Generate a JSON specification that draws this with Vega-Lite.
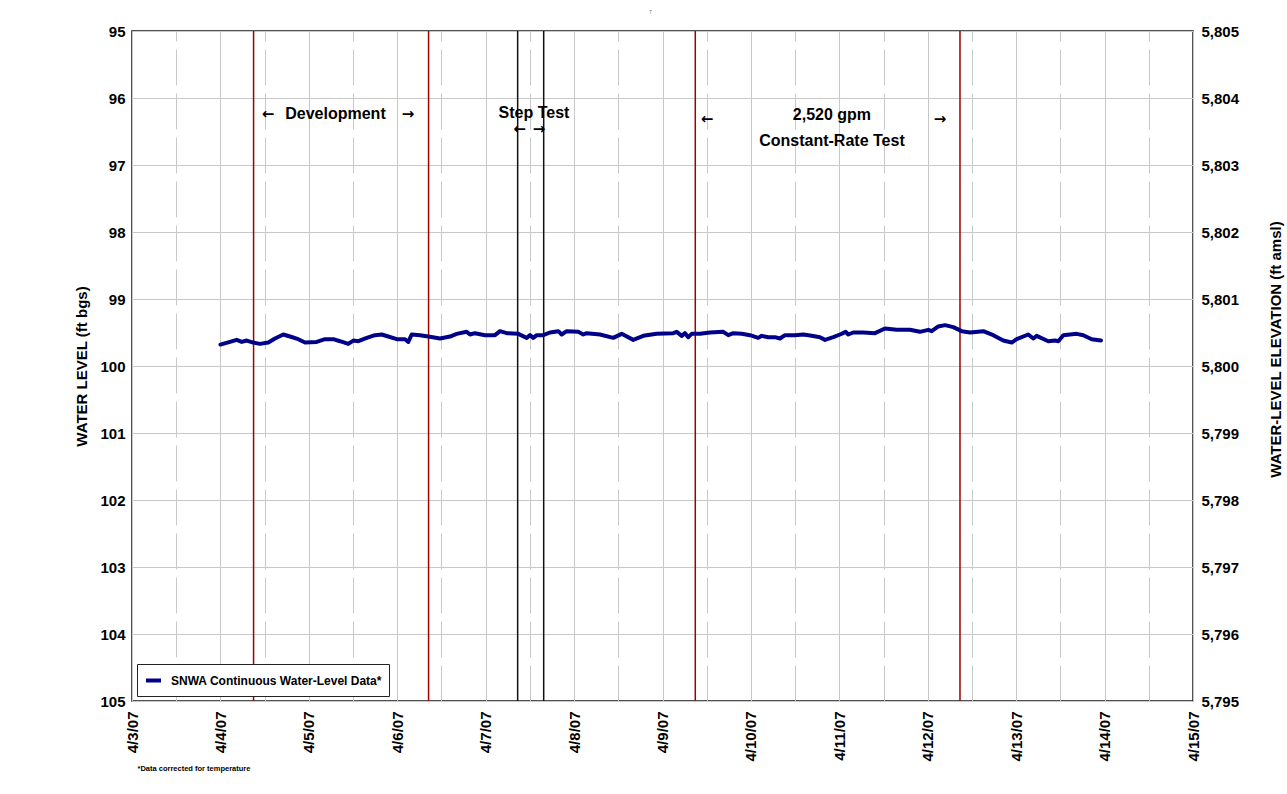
{
  "$schema": "https://vega.github.io/schema/vega-lite/v6.json",
  "width": 1061,
  "height": 670,
  "autosize": {"type": "none"},
  "padding": {"left": 132, "top": 31, "right": 94, "bottom": 93},
  "background": "white",
  "title": {
    "text": "7",
    "fontSize": 5,
    "fontWeight": "normal",
    "color": "#666666",
    "frame": "group",
    "anchor": "middle",
    "offset": 9,
    "dx": -12
  },
  "config": {
    "font": "Liberation Sans",
    "view": {"stroke": "#1a1a1a", "strokeWidth": 1.5},
    "axis": {
      "labelFont": "Liberation Sans",
      "labelFontWeight": "bold",
      "labelFontSize": 15,
      "labelColor": "#000000",
      "titleFont": "Liberation Sans",
      "titleFontWeight": "bold",
      "titleFontSize": 15,
      "titleColor": "#000000",
      "domain": false,
      "ticks": false,
      "gridColor": "#c8c8c8",
      "gridWidth": 1
    }
  },
  "datasets": {
    "level": [
      {"t": "2007-04-04T00:00", "level": 99.68},
      {"t": "2007-04-04T02:36", "level": 99.64},
      {"t": "2007-04-04T04:25", "level": 99.61},
      {"t": "2007-04-04T05:47", "level": 99.64},
      {"t": "2007-04-04T07:08", "level": 99.62},
      {"t": "2007-04-04T08:56", "level": 99.65},
      {"t": "2007-04-04T10:45", "level": 99.67},
      {"t": "2007-04-04T13:00", "level": 99.65},
      {"t": "2007-04-04T14:49", "level": 99.59},
      {"t": "2007-04-04T17:04", "level": 99.53},
      {"t": "2007-04-04T18:53", "level": 99.56},
      {"t": "2007-04-04T21:08", "level": 99.60},
      {"t": "2007-04-04T22:58", "level": 99.65},
      {"t": "2007-04-05T02:08", "level": 99.64},
      {"t": "2007-04-05T04:23", "level": 99.60},
      {"t": "2007-04-05T06:38", "level": 99.60},
      {"t": "2007-04-05T08:28", "level": 99.63},
      {"t": "2007-04-05T10:43", "level": 99.67},
      {"t": "2007-04-05T12:04", "level": 99.62},
      {"t": "2007-04-05T13:26", "level": 99.63},
      {"t": "2007-04-05T15:43", "level": 99.58},
      {"t": "2007-04-05T17:58", "level": 99.54},
      {"t": "2007-04-05T19:47", "level": 99.53},
      {"t": "2007-04-05T21:34", "level": 99.56},
      {"t": "2007-04-05T23:51", "level": 99.60},
      {"t": "2007-04-06T02:06", "level": 99.60},
      {"t": "2007-04-06T03:00", "level": 99.64},
      {"t": "2007-04-06T03:55", "level": 99.53},
      {"t": "2007-04-06T06:10", "level": 99.54},
      {"t": "2007-04-06T08:26", "level": 99.56},
      {"t": "2007-04-06T11:36", "level": 99.59},
      {"t": "2007-04-06T14:19", "level": 99.56},
      {"t": "2007-04-06T16:08", "level": 99.52},
      {"t": "2007-04-06T18:51", "level": 99.49},
      {"t": "2007-04-06T19:45", "level": 99.53},
      {"t": "2007-04-06T21:06", "level": 99.51},
      {"t": "2007-04-06T23:49", "level": 99.54},
      {"t": "2007-04-07T02:32", "level": 99.54},
      {"t": "2007-04-07T03:53", "level": 99.48},
      {"t": "2007-04-07T05:43", "level": 99.51},
      {"t": "2007-04-07T08:52", "level": 99.52},
      {"t": "2007-04-07T11:08", "level": 99.58},
      {"t": "2007-04-07T12:02", "level": 99.54},
      {"t": "2007-04-07T12:56", "level": 99.58},
      {"t": "2007-04-07T13:51", "level": 99.54},
      {"t": "2007-04-07T15:38", "level": 99.54},
      {"t": "2007-04-07T17:28", "level": 99.50},
      {"t": "2007-04-07T19:43", "level": 99.48},
      {"t": "2007-04-07T20:38", "level": 99.53},
      {"t": "2007-04-07T21:59", "level": 99.48},
      {"t": "2007-04-08T01:08", "level": 99.49},
      {"t": "2007-04-08T02:30", "level": 99.53},
      {"t": "2007-04-08T03:25", "level": 99.51},
      {"t": "2007-04-08T07:02", "level": 99.53},
      {"t": "2007-04-08T10:38", "level": 99.58},
      {"t": "2007-04-08T12:55", "level": 99.52},
      {"t": "2007-04-08T16:04", "level": 99.61},
      {"t": "2007-04-08T18:47", "level": 99.55},
      {"t": "2007-04-08T22:25", "level": 99.52},
      {"t": "2007-04-09T02:56", "level": 99.51},
      {"t": "2007-04-09T03:51", "level": 99.49},
      {"t": "2007-04-09T05:13", "level": 99.55},
      {"t": "2007-04-09T06:07", "level": 99.51},
      {"t": "2007-04-09T07:00", "level": 99.57},
      {"t": "2007-04-09T07:56", "level": 99.52},
      {"t": "2007-04-09T10:11", "level": 99.52},
      {"t": "2007-04-09T12:53", "level": 99.50},
      {"t": "2007-04-09T16:30", "level": 99.49},
      {"t": "2007-04-09T17:52", "level": 99.54},
      {"t": "2007-04-09T19:13", "level": 99.51},
      {"t": "2007-04-09T21:30", "level": 99.52},
      {"t": "2007-04-09T23:45", "level": 99.54},
      {"t": "2007-04-10T02:00", "level": 99.58},
      {"t": "2007-04-10T02:56", "level": 99.55},
      {"t": "2007-04-10T04:43", "level": 99.57},
      {"t": "2007-04-10T06:32", "level": 99.57},
      {"t": "2007-04-10T07:53", "level": 99.59},
      {"t": "2007-04-10T09:15", "level": 99.54},
      {"t": "2007-04-10T11:58", "level": 99.54},
      {"t": "2007-04-10T14:13", "level": 99.53},
      {"t": "2007-04-10T16:30", "level": 99.55},
      {"t": "2007-04-10T18:45", "level": 99.57},
      {"t": "2007-04-10T20:07", "level": 99.61},
      {"t": "2007-04-10T22:22", "level": 99.57},
      {"t": "2007-04-11T00:11", "level": 99.53},
      {"t": "2007-04-11T01:44", "level": 99.49},
      {"t": "2007-04-11T02:26", "level": 99.53},
      {"t": "2007-04-11T03:47", "level": 99.50},
      {"t": "2007-04-11T06:30", "level": 99.50},
      {"t": "2007-04-11T09:41", "level": 99.51},
      {"t": "2007-04-11T12:23", "level": 99.44},
      {"t": "2007-04-11T15:34", "level": 99.46},
      {"t": "2007-04-11T19:11", "level": 99.46},
      {"t": "2007-04-11T21:53", "level": 99.49},
      {"t": "2007-04-12T00:09", "level": 99.46},
      {"t": "2007-04-12T01:04", "level": 99.48},
      {"t": "2007-04-12T02:52", "level": 99.41},
      {"t": "2007-04-12T04:41", "level": 99.39},
      {"t": "2007-04-12T06:56", "level": 99.42},
      {"t": "2007-04-12T09:13", "level": 99.48},
      {"t": "2007-04-12T11:28", "level": 99.50},
      {"t": "2007-04-12T15:05", "level": 99.48},
      {"t": "2007-04-12T17:47", "level": 99.54},
      {"t": "2007-04-12T20:30", "level": 99.62},
      {"t": "2007-04-12T22:47", "level": 99.65},
      {"t": "2007-04-13T00:08", "level": 99.60},
      {"t": "2007-04-13T03:17", "level": 99.53},
      {"t": "2007-04-13T04:39", "level": 99.59},
      {"t": "2007-04-13T05:34", "level": 99.55},
      {"t": "2007-04-13T08:43", "level": 99.63},
      {"t": "2007-04-13T10:32", "level": 99.62},
      {"t": "2007-04-13T11:26", "level": 99.63},
      {"t": "2007-04-13T12:48", "level": 99.54},
      {"t": "2007-04-13T16:26", "level": 99.52},
      {"t": "2007-04-13T18:13", "level": 99.54},
      {"t": "2007-04-13T20:30", "level": 99.60},
      {"t": "2007-04-13T23:01", "level": 99.62}
    ],
    "events": [
      {"t": "2007-04-04T09:00", "kind": "pumping"},
      {"t": "2007-04-06T08:30", "kind": "pumping"},
      {"t": "2007-04-09T08:54", "kind": "pumping"},
      {"t": "2007-04-12T08:45", "kind": "pumping"},
      {"t": "2007-04-07T08:41", "kind": "step"},
      {"t": "2007-04-07T15:45", "kind": "step"}
    ],
    "notes": [
      {"t": "2007-04-05T07:14", "level": 96.24, "label": "Development"},
      {"t": "2007-04-07T13:07", "level": 96.22, "label": "Step Test"},
      {"t": "2007-04-10T22:00", "level": 96.25, "label": "2,520 gpm"},
      {"t": "2007-04-10T22:00", "level": 96.64, "label": "Constant-Rate Test"}
    ],
    "arrows": [
      {"t": "2007-04-04T12:55", "level": 96.24, "label": "←"},
      {"t": "2007-04-06T02:55", "level": 96.24, "label": "→"},
      {"t": "2007-04-07T09:11", "level": 96.47, "label": "←"},
      {"t": "2007-04-07T14:29", "level": 96.47, "label": "→"},
      {"t": "2007-04-09T12:05", "level": 96.32, "label": "←"},
      {"t": "2007-04-12T03:19", "level": 96.32, "label": "→"}
    ]
  },
  "layer": [
    {
      "data": {"name": "events"},
      "transform": [{"filter": "datum.kind === 'pumping'"}],
      "mark": {"type": "rule", "color": "#a00000", "strokeWidth": 1.5},
      "encoding": {
        "x": {
          "field": "t",
          "type": "temporal",
          "scale": {"domain": [{"year": 2007, "month": 4, "date": 3}, {"year": 2007, "month": 4, "date": 15}]},
          "axis": null
        },
        "y": {
          "datum": 5795,
          "type": "quantitative",
          "scale": {"domain": [5795, 5805], "nice": false, "zero": false},
          "axis": {
            "orient": "right",
            "values": [5795, 5796, 5797, 5798, 5799, 5800, 5801, 5802, 5803, 5804, 5805],
            "format": ",d",
            "grid": false,
            "labelPadding": 8,
            "title": "WATER-LEVEL ELEVATION (ft amsl)",
            "titleAngle": -90,
            "titleAlign": "center",
            "titleBaseline": "middle",
            "titleX": 82,
            "titleY": 318
          }
        },
        "y2": {"datum": 5805}
      }
    },
    {
      "data": {"name": "events"},
      "transform": [{"filter": "datum.kind === 'step'"}],
      "mark": {"type": "rule", "color": "#111111", "strokeWidth": 1.5},
      "encoding": {
        "x": {
          "field": "t",
          "type": "temporal",
          "scale": {"domain": [{"year": 2007, "month": 4, "date": 3}, {"year": 2007, "month": 4, "date": 15}]},
          "axis": {
            "orient": "bottom",
            "values": [
              {"year": 2007, "month": 4, "date": 3, "hours": 12},
              {"year": 2007, "month": 4, "date": 4, "hours": 12},
              {"year": 2007, "month": 4, "date": 5, "hours": 12},
              {"year": 2007, "month": 4, "date": 6, "hours": 12},
              {"year": 2007, "month": 4, "date": 7, "hours": 12},
              {"year": 2007, "month": 4, "date": 8, "hours": 12},
              {"year": 2007, "month": 4, "date": 9, "hours": 12},
              {"year": 2007, "month": 4, "date": 10, "hours": 12},
              {"year": 2007, "month": 4, "date": 11, "hours": 12},
              {"year": 2007, "month": 4, "date": 12, "hours": 12},
              {"year": 2007, "month": 4, "date": 13, "hours": 12},
              {"year": 2007, "month": 4, "date": 14, "hours": 12}
            ],
            "labels": false,
            "grid": true,
            "gridDash": [36, 8],
            "title": null
          }
        }
      }
    },
    {
      "data": {"name": "level"},
      "mark": {"type": "line", "strokeWidth": 4, "strokeJoin": "round", "strokeCap": "round"},
      "encoding": {
        "x": {
          "field": "t",
          "type": "temporal",
          "scale": {"domain": [{"year": 2007, "month": 4, "date": 3}, {"year": 2007, "month": 4, "date": 15}]},
          "axis": {
            "orient": "bottom",
            "values": [
              {"year": 2007, "month": 4, "date": 3},
              {"year": 2007, "month": 4, "date": 4},
              {"year": 2007, "month": 4, "date": 5},
              {"year": 2007, "month": 4, "date": 6},
              {"year": 2007, "month": 4, "date": 7},
              {"year": 2007, "month": 4, "date": 8},
              {"year": 2007, "month": 4, "date": 9},
              {"year": 2007, "month": 4, "date": 10},
              {"year": 2007, "month": 4, "date": 11},
              {"year": 2007, "month": 4, "date": 12},
              {"year": 2007, "month": 4, "date": 13},
              {"year": 2007, "month": 4, "date": 14},
              {"year": 2007, "month": 4, "date": 15}
            ],
            "format": "%-m/%-d/%y",
            "labelAngle": 270,
            "labelAlign": "right",
            "labelBaseline": "middle",
            "labelPadding": 10,
            "labelOverlap": false,
            "labelBound": false,
            "labelFlush": false,
            "grid": true,
            "title": "*Data corrected for temperature",
            "titleFontSize": 7.5,
            "titleAngle": 0,
            "titleAnchor": "start",
            "titleAlign": "left",
            "titleBaseline": "alphabetic",
            "titleX": 5,
            "titleY": 69
          }
        },
        "y": {
          "field": "level",
          "type": "quantitative",
          "scale": {"domain": [95, 105], "reverse": true, "nice": false, "zero": false},
          "axis": {
            "orient": "left",
            "values": [95, 96, 97, 98, 99, 100, 101, 102, 103, 104, 105],
            "grid": true,
            "labelPadding": 7,
            "title": "WATER LEVEL (ft bgs)",
            "titleAngle": -90,
            "titleAlign": "center",
            "titleBaseline": "middle",
            "titleX": -51,
            "titleY": 335
          }
        },
        "color": {
          "datum": "SNWA Continuous Water-Level Data*",
          "type": "nominal",
          "scale": {"range": ["#000088"]},
          "legend": {
            "title": null,
            "orient": "bottom-left",
            "offset": 5,
            "padding": 7,
            "strokeColor": "#222222",
            "fillColor": "#ffffff",
            "symbolType": "stroke",
            "symbolStrokeWidth": 4,
            "symbolSize": 225,
            "labelFont": "Liberation Sans",
            "labelFontSize": 12,
            "labelFontWeight": "bold",
            "labelColor": "#000000",
            "labelLimit": 400,
            "labelOffset": 8
          }
        }
      }
    },
    {
      "data": {"name": "notes"},
      "mark": {
        "type": "text",
        "font": "Liberation Sans",
        "fontWeight": "bold",
        "fontSize": 16,
        "color": "#000000",
        "align": "center",
        "baseline": "middle"
      },
      "encoding": {
        "x": {
          "field": "t",
          "type": "temporal",
          "scale": {"domain": [{"year": 2007, "month": 4, "date": 3}, {"year": 2007, "month": 4, "date": 15}]},
          "axis": null
        },
        "y": {
          "field": "level",
          "type": "quantitative",
          "scale": {"domain": [95, 105], "reverse": true, "nice": false, "zero": false},
          "axis": null
        },
        "text": {"field": "label"}
      }
    },
    {
      "data": {"name": "arrows"},
      "mark": {
        "type": "text",
        "font": "DejaVu Sans",
        "fontWeight": "bold",
        "fontSize": 15,
        "color": "#000000",
        "align": "center",
        "baseline": "middle"
      },
      "encoding": {
        "x": {
          "field": "t",
          "type": "temporal",
          "scale": {"domain": [{"year": 2007, "month": 4, "date": 3}, {"year": 2007, "month": 4, "date": 15}]},
          "axis": null
        },
        "y": {
          "field": "level",
          "type": "quantitative",
          "scale": {"domain": [95, 105], "reverse": true, "nice": false, "zero": false},
          "axis": null
        },
        "text": {"field": "label"}
      }
    }
  ],
  "resolve": {
    "scale": {"y": "independent"},
    "axis": {"x": "independent"}
  }
}
